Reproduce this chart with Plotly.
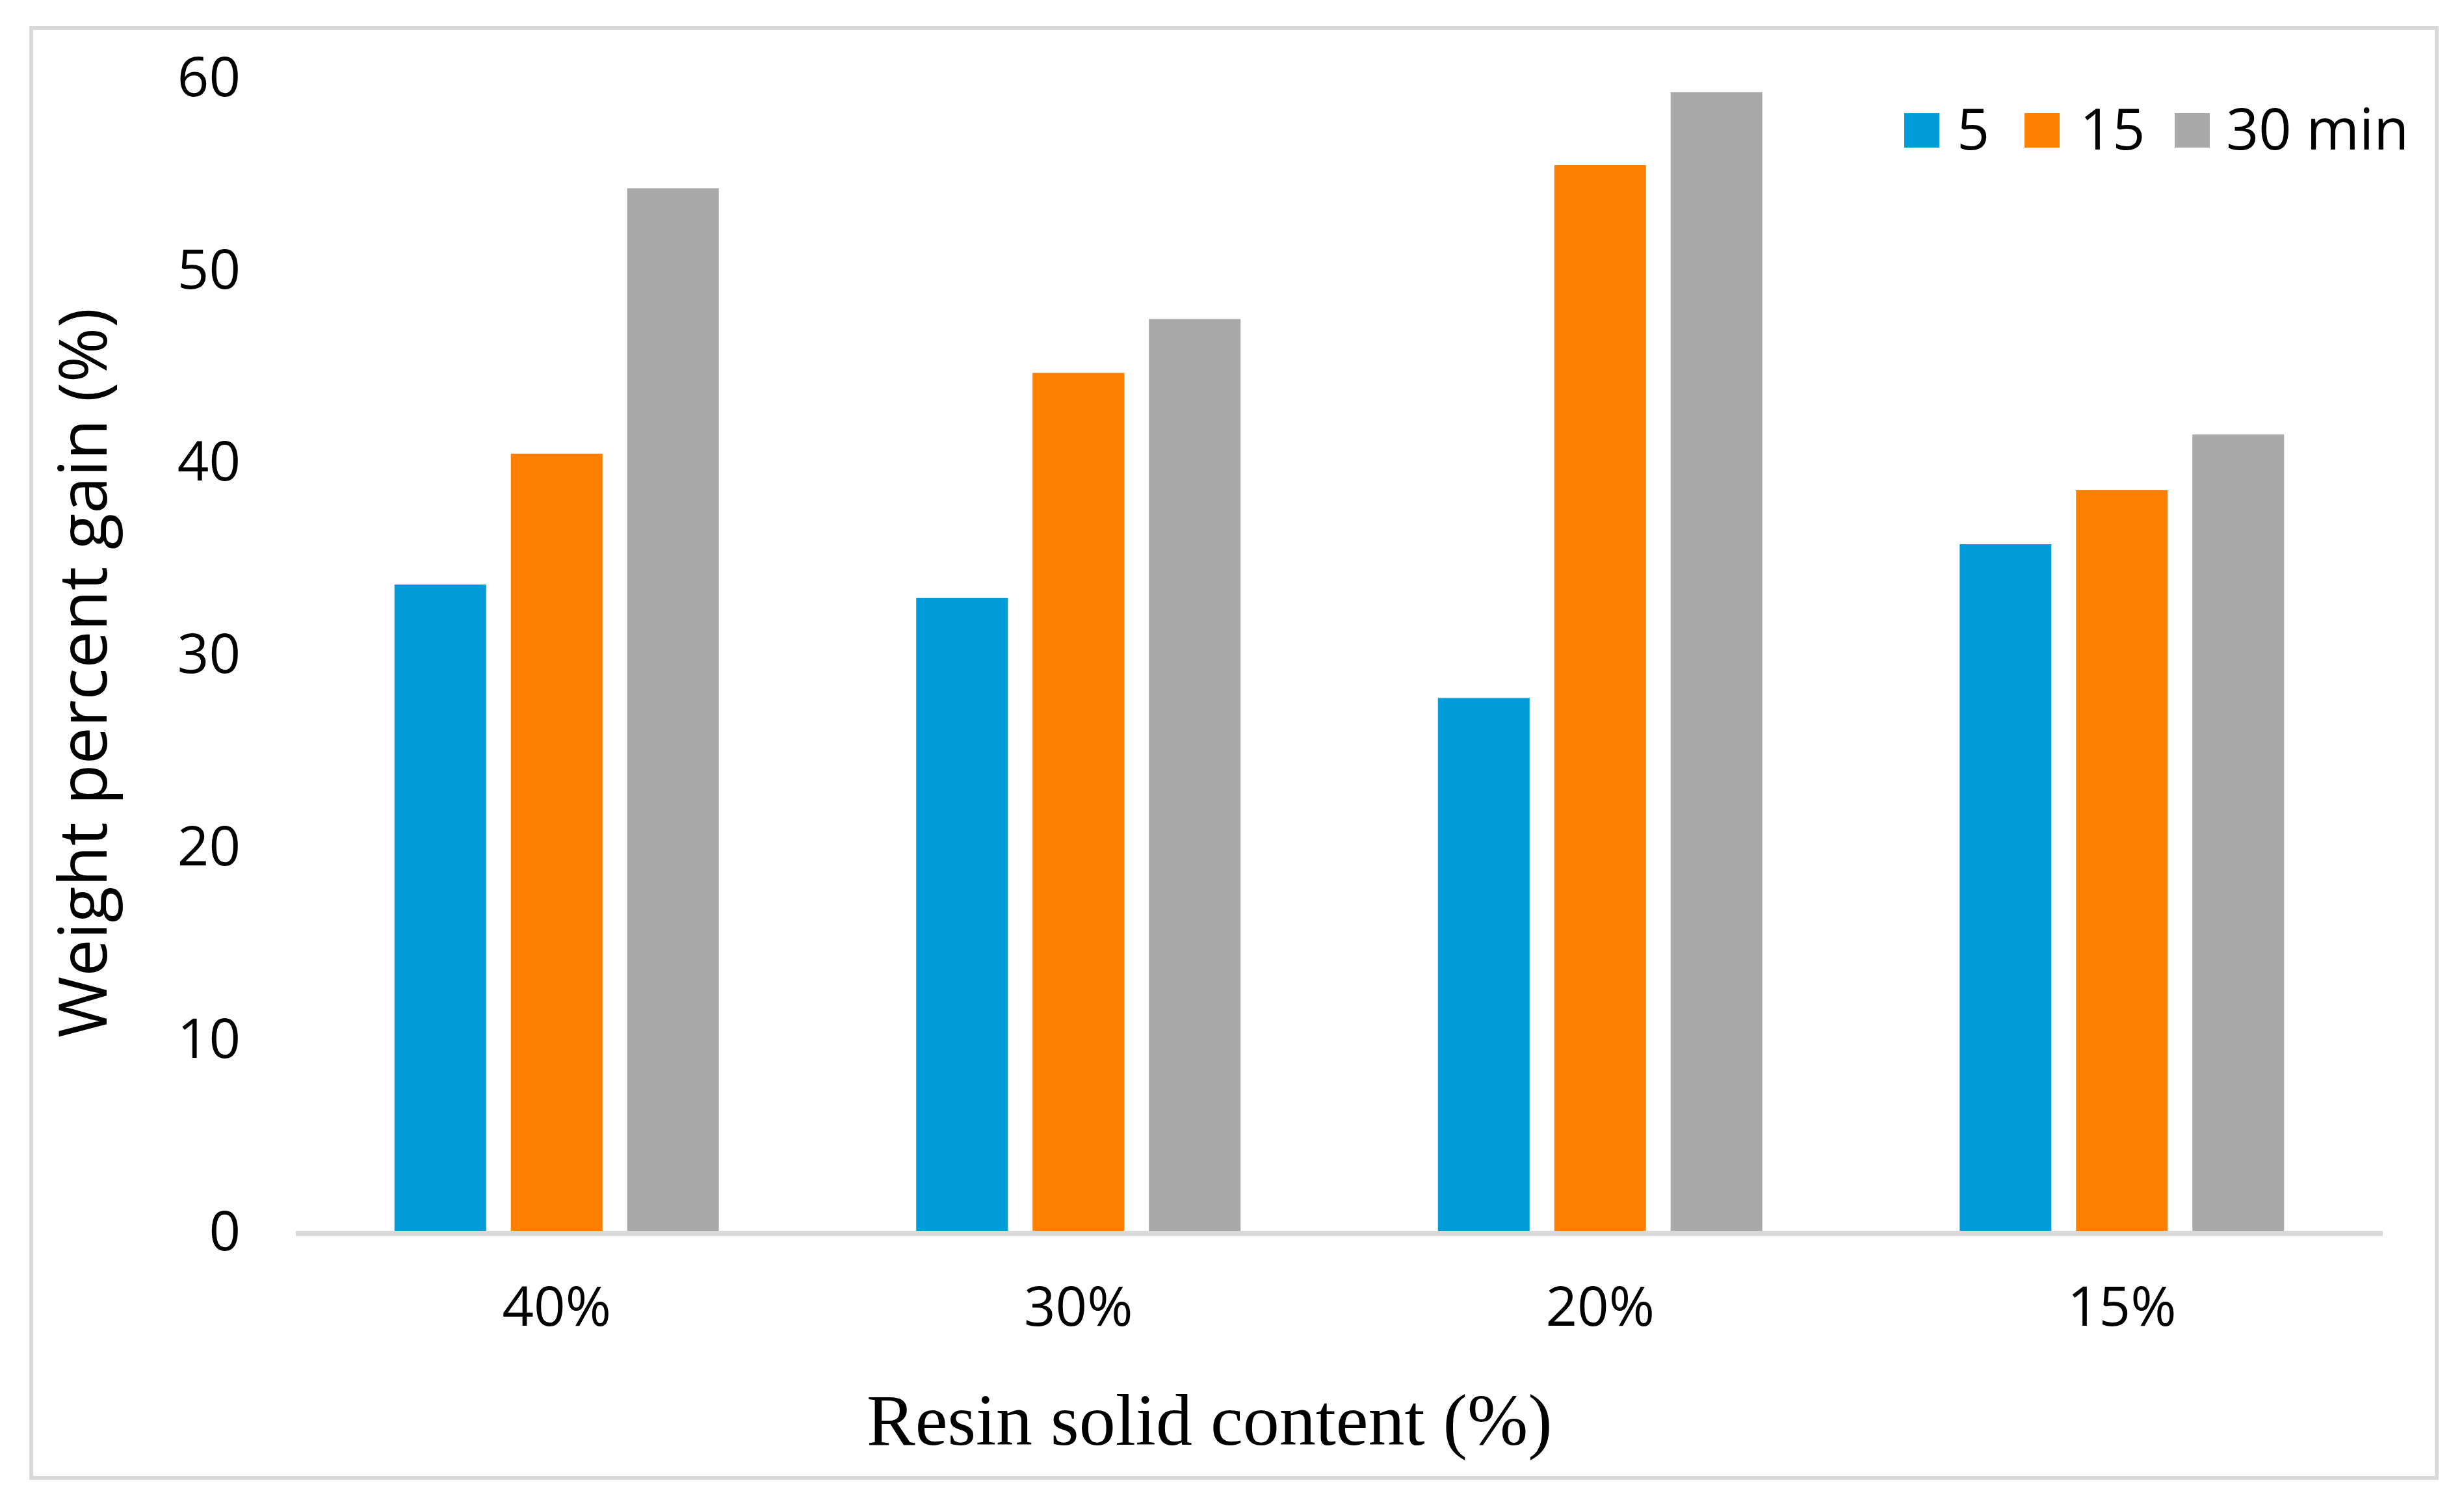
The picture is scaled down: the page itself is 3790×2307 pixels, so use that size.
import plotly.graph_objects as go

# ---- data ----
categories = ["40%", "30%", "20%", "15%"]
series_names = ["5", "15", "30 min"]
t5 = [33.6, 32.9, 27.7, 35.7]
t15 = [40.4, 44.6, 55.4, 38.5]
t30 = [54.2, 47.4, 59.2, 41.4]
colors = ["#009BD9", "#FF8000", "#A9A9A9"]
y_ticks = [0, 10, 20, 30, 40, 50, 60]

W, H = 3790, 2307
L, R, T, B = 447, 3657, 110, 1885  # plot area in pixels


def px(xp):
    return (xp - L) / (R - L)


def py(yp):
    return (B - yp) / (B - T)


fig = go.Figure()
for name, vals, col in zip(series_names, [t5, t15, t30], colors):
    fig.add_trace(go.Bar(x=categories, y=vals, name=name, marker=dict(color=col, line=dict(width=0)),
                         showlegend=False))

shapes = []
annotations = []
# outer frame
shapes.append(dict(type="rect", xref="paper", yref="paper", x0=px(40), x1=px(3740), y0=py(35), y1=py(2265),
                   line=dict(color="#D9D9D9", width=6), fillcolor="rgba(0,0,0,0)", layer="below"))

# manual legend (large swatches)
sq_left = [2921, 3106, 3337]
txt_left = [3001, 3190, 3415]
for name, col, sl, tl in zip(series_names, colors, sq_left, txt_left):
    shapes.append(dict(type="rect", xref="paper", yref="paper", x0=px(sl), x1=px(sl + 54), y0=py(219), y1=py(166),
                       line=dict(width=0), fillcolor=col))
    annotations.append(dict(text=name, xref="paper", yref="paper", x=px(tl), y=py(188), xanchor="left",
                            yanchor="middle", showarrow=False,
                            font=dict(family="Open Sans", size=88, color="#000000"), borderpad=0))

# axis titles
annotations.append(dict(text="Weight percent gain (%)", xref="paper", yref="paper", x=px(116), y=py(1027),
                        xanchor="center", yanchor="middle", textangle=-90, showarrow=False,
                        font=dict(family="Open Sans", size=102, color="#000000")))
annotations.append(dict(text="Resin solid content (%)", xref="paper", yref="paper", x=px(1852), y=py(2176),
                        xanchor="center", yanchor="middle", showarrow=False,
                        font=dict(family="Liberation Serif", size=112, color="#000000")))

fig.update_layout(
    width=W, height=H,
    margin=dict(l=L, r=W - R, t=T, b=H - B, pad=0),
    paper_bgcolor="white", plot_bgcolor="white",
    barmode="group", bargap=0.331, bargroupgap=0.212,
    shapes=shapes, annotations=annotations,
    showlegend=False,
    xaxis=dict(showgrid=False, zeroline=False, showline=True, linecolor="#D9D9D9", linewidth=8,
               ticks="", ticklabelstandoff=36, layer="below traces",
               tickfont=dict(family="Open Sans", size=85, color="#000000")),
    yaxis=dict(range=[0, 60], tickvals=y_ticks, showgrid=False, zeroline=False, showline=False,
               ticks="", ticklabelstandoff=84,
               tickfont=dict(family="Open Sans", size=85, color="#000000")),
)

fig.write_html("out.html")
